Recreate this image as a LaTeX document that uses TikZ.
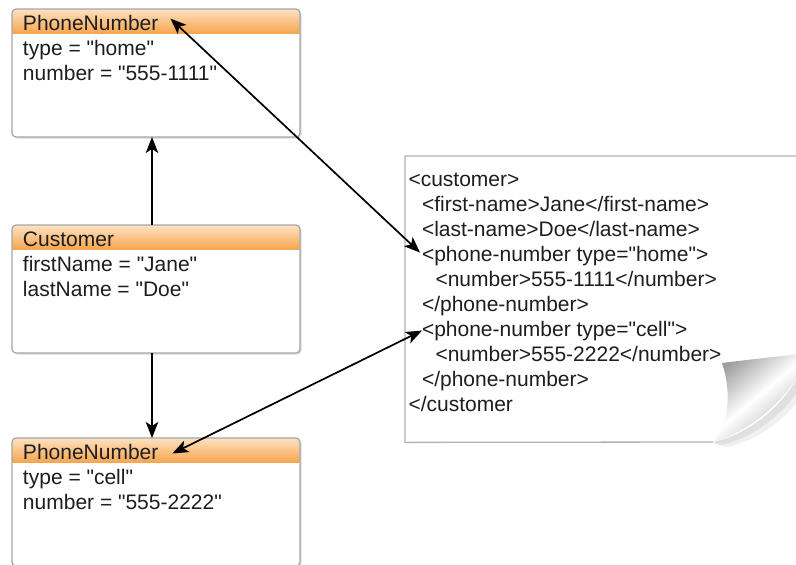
\documentclass[tikz,border=0pt]{standalone}
\usepackage{fontspec}
\setmainfont{Liberation Sans}[Ligatures=TeXOff]
\usetikzlibrary{arrows.meta}
\definecolor{hdtop}{HTML}{FDE2C2}
\definecolor{hdbot}{HTML}{F6A650}
\definecolor{boxline}{HTML}{A6A6A6}
\definecolor{docline}{HTML}{B2B2B2}
\definecolor{txt}{HTML}{1E1E1E}
\tikzset{
  classbox/.style={fill=white, rounded corners=4pt, minimum width=288pt, minimum height=128pt, anchor=north west, inner sep=0pt, outer sep=0pt},
  boxborder/.style={draw=boxline, line width=1.2pt, rounded corners=4pt},
  boxshadow/.style={fill=black!14, rounded corners=4pt},
  label/.style={anchor=base west, inner sep=0pt, outer sep=0pt, text=txt, font=\fontsize{21}{25}\selectfont},
  link/.style={line width=1.7pt, black, {Stealth[length=16pt,width=12.5pt,inset=4pt]}-{Stealth[length=16pt,width=12.5pt,inset=4pt]}},
  uni/.style={line width=1.7pt, black, -{Stealth[length=16pt,width=12.5pt,inset=4pt]}}
}
\begin{document}
\begin{tikzpicture}[x=1pt,y=-1pt]
\useasboundingbox[fill=white] (0,0) rectangle (796,565);

% ---------- class boxes ----------
\foreach \t/\n in {9/b1,225/b2,438/b3}{
  \fill[boxshadow] (13.5,\t+1.5) rectangle (301.5,\t+129.5);
  \node[classbox] (\n) at (12,\t) {};
  \begin{scope}
    \clip[rounded corners=4pt] (\n.north west) rectangle (\n.south east);
    \shade[top color=hdtop, bottom color=hdbot] (\n.north west) rectangle ([yshift=-24pt]\n.north east);
  \end{scope}
  \draw[boxborder] (\n.north west) rectangle (\n.south east);
}

\node[label] (h1) at (23,30) {PhoneNumber};
\node[label] (a1) at (23,55) {type = "home"};
\node[label] (a2) at (23,80) {number = "555-1111"};

\node[label] (h2) at (23,246) {Customer};
\node[label] (c1) at (23,271) {firstName = "Jane"};
\node[label] (c2) at (23,296) {lastName = "Doe"};

\node[label] (h3) at (23,459) {PhoneNumber};
\node[label] (d1) at (23,484) {type = "cell"};
\node[label] (d2) at (23,509) {number = "555-2222"};

% ---------- XML document ----------
\node[fill=white, minimum width=400pt, minimum height=286pt, anchor=north west, inner sep=0pt] (doc) at (405,156) {};
\draw[docline, line width=1.3pt] (713,442) -- (doc.south west) -- (doc.north west) -- (doc.north east);

\node[label] (x1) at (408.5,186) {<customer>};
\node[label] (x2) at (422,211) {<first-name>Jane</first-name>};
\node[label] (x3) at (422,236) {<last-name>Doe</last-name>};
\node[label] (x4) at (422,261) {<phone-number type="home">};
\node[label] (x5) at (435.5,286) {<number>555-1111</number>};
\node[label] (x6) at (422,311) {</phone-number>};
\node[label] (x7) at (422,336) {<phone-number type="cell">};
\node[label] (x8) at (435.5,361) {<number>555-2222</number>};
\node[label] (x9) at (422,386) {</phone-number>};
\node[label] (x10) at (408.5,411) {</customer};

% page curl: soft shadow, then the curled corner
\fill[black!6] (800,374) .. controls (782,408) and (752,436) .. (713,443) -- (726,447) .. controls (762,440) and (788,415) .. (800,398) -- cycle;
\fill[black!12] (800,374) .. controls (782,406) and (750,434) .. (713,442) -- (720,445) .. controls (756,438) and (786,410) .. (800,388) -- cycle;
\shade[top color=black!38, bottom color=black!30, middle color=white, shading angle=40]
  (722,363) .. controls (745,360) and (775,357) .. (798,354) -- (798,376)
  .. controls (780,405) and (748,432) .. (713,442)
  .. controls (727,430) and (733,395) .. (722,363) -- cycle;

% ---------- connectors ----------
\draw[link] ([shift={(12pt,4pt)}]h1.east) -- ([shift={(-2pt,3pt)}]x4.west);
\draw[uni] ([xshift=-4pt]b2.north) -- ([xshift=-4pt]b1.south);
\draw[uni] ([xshift=-4pt]b2.south) -- ([xshift=-4pt]b3.north);
\draw[link] ([shift={(14pt,-2pt)}]h3.east) -- (x7.west);
\end{tikzpicture}
\end{document}
